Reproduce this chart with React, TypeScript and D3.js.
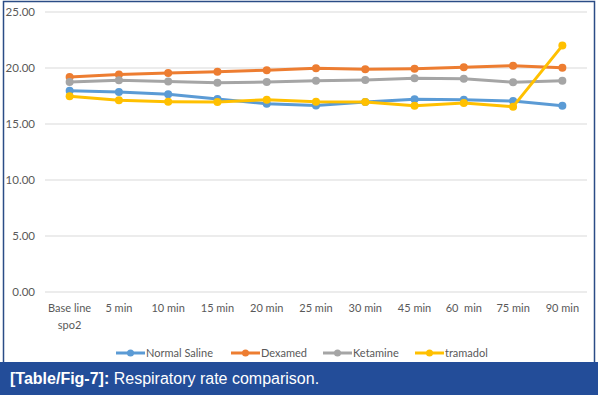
import React, { useEffect, useRef } from 'react';
import * as d3 from 'd3';

const categories = ['Base line spo2', '5 min', '10 min', '15 min', '20 min', '25 min', '30 min', '45 min', '60  min', '75 min', '90 min'];
const normalSaline = [17.97, 17.86, 17.65, 17.23, 16.8, 16.65, 16.96, 17.2, 17.17, 17.05, 16.63];
const dexamed = [19.2, 19.43, 19.55, 19.67, 19.8, 19.97, 19.88, 19.94, 20.06, 20.2, 20.03];
const ketamine = [18.75, 18.9, 18.8, 18.69, 18.75, 18.87, 18.93, 19.08, 19.05, 18.72, 18.87];
const tramadol = [17.47, 17.11, 16.99, 16.96, 17.17, 16.98, 16.96, 16.63, 16.88, 16.55, 22.0];
const yTicks = [0, 5, 10, 15, 20, 25];

const seriesList = [
  { name: 'Normal Saline', values: normalSaline, color: '#5b9bd5' },
  { name: 'Dexamed', values: dexamed, color: '#ed7d31' },
  { name: 'Ketamine', values: ketamine, color: '#a5a5a5' },
  { name: 'tramadol', values: tramadol, color: '#ffc000' },
];

const App = () => {
  const ref = useRef<SVGSVGElement>(null);

  useEffect(() => {
    const width = 598, height = 395;
    const svg = d3.select(ref.current);
    svg.selectAll('*').remove();
    const font = 'Lato, "Open Sans", sans-serif';

    // outer frame
    svg.append('rect').attr('width', width).attr('height', height).attr('fill', '#fff');
    svg.append('rect')
      .attr('x', 3.5).attr('y', 1.5).attr('width', 591).attr('height', 370)
      .attr('fill', 'none').attr('stroke', '#2b4c86').attr('stroke-width', 1.5);

    const x = d3.scaleBand().domain(categories).range([45, 587]);
    const y = d3.scaleLinear().domain([0, 25]).range([292, 12]);

    // gridlines + y labels
    const yAxis = svg.append('g');
    yAxis.selectAll('line').data(yTicks).join('line')
      .attr('x1', 45).attr('x2', 587)
      .attr('y1', d => y(d)).attr('y2', d => y(d))
      .attr('stroke', '#d9d9d9').attr('stroke-width', 1);
    yAxis.selectAll('text').data(yTicks).join('text')
      .attr('x', 35).attr('y', d => y(d)).attr('dy', '0.35em')
      .attr('text-anchor', 'end').attr('font-family', font).attr('font-size', 11.5)
      .attr('fill', '#595959').text(d => d3.format('.2f')(d));

    // x labels
    const xLab = svg.append('g');
    categories.forEach(c => {
      const lines = c === 'Base line spo2' ? ['Base line', 'spo2'] : [c];
      const t = xLab.append('text')
        .attr('x', x(c)! + x.bandwidth() / 2).attr('y', 312)
        .attr('text-anchor', 'middle').attr('font-family', font).attr('font-size', 11)
        .attr('fill', '#595959').style('white-space', 'pre');
      lines.forEach((l, i) => t.append('tspan').attr('x', x(c)! + x.bandwidth() / 2).attr('dy', i === 0 ? 0 : 17).text(l));
    });

    const cx = (i: number) => x(categories[i])! + x.bandwidth() / 2;
    const line = d3.line<number>().x((d, i) => cx(i)).y(d => y(d));

    seriesList.forEach(s => {
      const g = svg.append('g');
      g.append('path').datum(s.values).attr('d', line)
        .attr('fill', 'none').attr('stroke', s.color).attr('stroke-width', 3)
        .attr('stroke-linejoin', 'round').attr('stroke-linecap', 'round');
      g.selectAll('circle').data(s.values).join('circle')
        .attr('cx', (d, i) => cx(i)).attr('cy', d => y(d)).attr('r', 4)
        .attr('fill', s.color);
    });

    // legend
    const legendX = [116, 231, 323, 415];
    seriesList.forEach((s, i) => {
      const g = svg.append('g').attr('transform', `translate(${legendX[i]},353)`);
      g.append('line').attr('x1', 0).attr('x2', 29).attr('stroke', s.color).attr('stroke-width', 3);
      g.append('circle').attr('cx', 14.5).attr('r', 3.5).attr('fill', s.color);
      g.append('text').attr('x', 30).attr('dy', '0.35em')
        .attr('font-family', font).attr('font-size', 11).attr('fill', '#595959').text(s.name);
    });

    // caption bar
    svg.append('rect').attr('x', 0).attr('y', 362).attr('width', width).attr('height', 33).attr('fill', '#234d99');
    const cap = svg.append('text').attr('x', 10).attr('y', 384)
      .attr('font-family', '"Liberation Sans", Arial, sans-serif').attr('font-size', 16).attr('fill', '#fff');
    cap.append('tspan').attr('font-weight', 'bold').text('[Table/Fig-7]:');
    cap.append('tspan').text(' Respiratory rate comparison.');
  }, []);

  return (
    <>
      <style>{'body{margin:0}'}</style>
      <svg ref={ref} width={598} height={395} style={{ display: 'block' }} />
    </>
  );
};

export default App;
